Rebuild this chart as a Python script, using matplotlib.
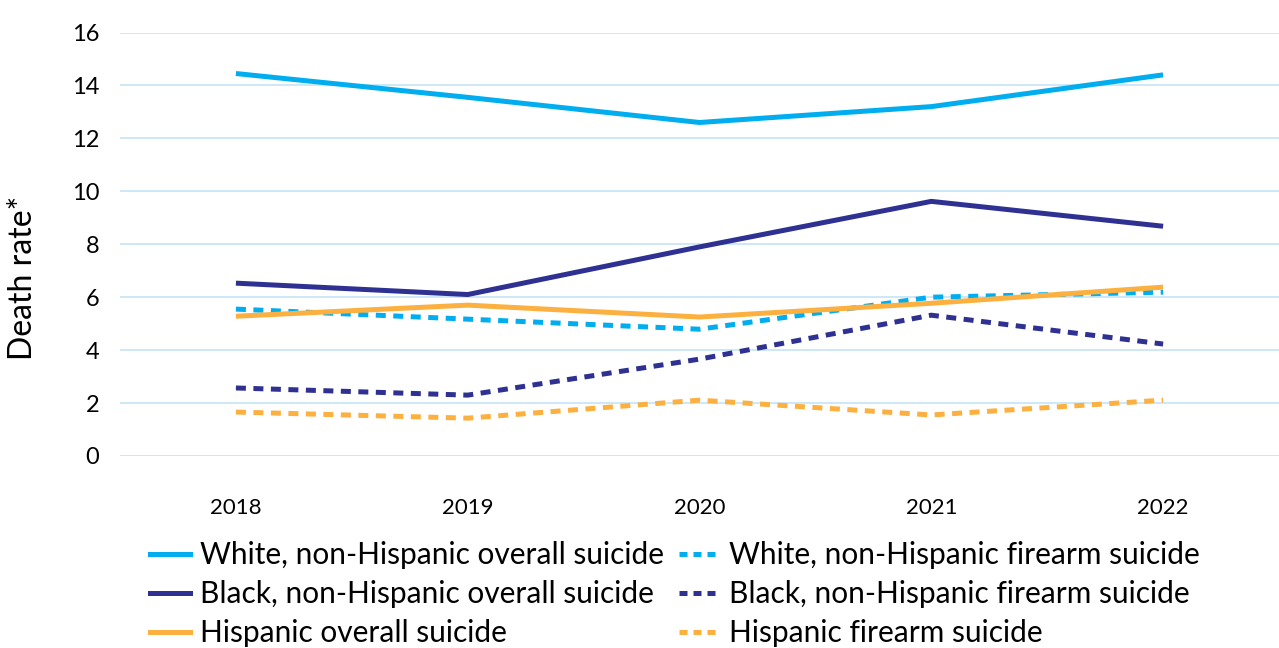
import matplotlib
matplotlib.use("Agg")
import matplotlib.pyplot as plt
from matplotlib.lines import Line2D

plt.rcParams['font.family'] = ['Lato', 'DejaVu Sans']

# death rates per 100,000 by year
years = ["2018", "2019", "2020", "2021", "2022"]
white_overall = [14.45, 13.55, 12.6, 13.2, 14.4]
white_firearm = [5.55, 5.17, 4.79, 6.0, 6.19]
black_overall = [6.53, 6.1, 7.9, 9.62, 8.68]
black_firearm = [2.57, 2.3, 3.66, 5.32, 4.23]
hisp_overall = [5.28, 5.7, 5.25, 5.77, 6.38]
hisp_firearm = [1.66, 1.43, 2.11, 1.55, 2.11]

LIGHT = "#00AEEF"
NAVY = "#2E3192"
ORANGE = "#FBB040"
GRID = "#C9E6F8"

fig = plt.figure(figsize=(12.79, 6.48), dpi=100)
ax = fig.add_axes([120/1279, 1 - 456/648, 1 - 120/1279, (456 - 32.5)/648])

x = range(len(years))
lw = 3.6
dash = (2, 1.5)
ax.plot(x, white_overall, color=LIGHT, lw=lw, solid_capstyle="butt")
ax.plot(x, black_overall, color=NAVY, lw=lw, solid_capstyle="butt")
ax.plot(x, white_firearm, color=LIGHT, lw=lw, dashes=dash, dash_capstyle="butt")
ax.plot(x, hisp_overall, color=ORANGE, lw=lw, solid_capstyle="butt")
ax.plot(x, black_firearm, color=NAVY, lw=lw, dashes=dash, dash_capstyle="butt")
ax.plot(x, hisp_firearm, color=ORANGE, lw=lw, dashes=dash, dash_capstyle="butt")

ax.set_xlim(-0.5, len(years) - 0.5)
ax.set_ylim(0, 16)
ax.set_yticks(range(0, 17, 2))
ax.set_xticks(list(x))
ax.set_xticklabels(years)
ax.grid(axis="y", color=GRID, lw=1.3)
ax.set_axisbelow(True)
for s in ax.spines.values():
    s.set_visible(False)
ax.tick_params(axis="both", length=0)
ax.tick_params(axis="x", pad=30, labelsize=16)
ax.tick_params(axis="y", pad=15, labelsize=17)
ax.set_ylabel("Death rate*", fontsize=23)
ax.yaxis.set_label_coords(-0.071, 0.42)

handles = [
    Line2D([], [], color=LIGHT, lw=lw),
    Line2D([], [], color=NAVY, lw=lw),
    Line2D([], [], color=ORANGE, lw=lw),
    Line2D([], [], color=LIGHT, lw=lw, dashes=(1.6, 1.2)),
    Line2D([], [], color=NAVY, lw=lw, dashes=(1.6, 1.2)),
    Line2D([], [], color=ORANGE, lw=lw, dashes=(1.6, 1.2)),
]
labels = [
    "White, non-Hispanic overall suicide",
    "Black, non-Hispanic overall suicide",
    "Hispanic overall suicide",
    "White, non-Hispanic firearm suicide",
    "Black, non-Hispanic firearm suicide",
    "Hispanic firearm suicide",
]
fig.legend(handles, labels, ncol=2, loc="upper left",
           bbox_to_anchor=(150/1279, 1 - 541/648), frameon=False, fontsize=21.5,
           handlelength=1.35, handletextpad=0.33, columnspacing=0.5,
           labelspacing=0.37, borderpad=0, borderaxespad=0)

fig.savefig("out.png", dpi=100)
